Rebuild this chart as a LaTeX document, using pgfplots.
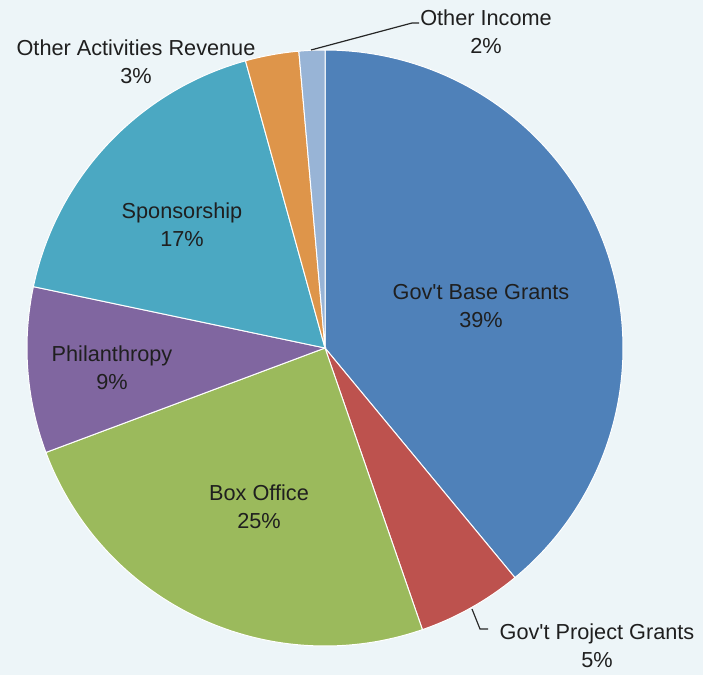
\documentclass[border=0pt]{standalone}
\usepackage{fontspec}
\setmainfont{Liberation Sans}
\usepackage{pgfplots}
\pgfplotsset{compat=1.18}
\definecolor{bg}{HTML}{EDF5F8}
\definecolor{cbase}{HTML}{4F81B9}
\definecolor{cproj}{HTML}{BD524E}
\definecolor{cbox}{HTML}{9BBA5C}
\definecolor{cphil}{HTML}{8066A0}
\definecolor{cspon}{HTML}{4BA8C2}
\definecolor{cact}{HTML}{DE954A}
\definecolor{cinc}{HTML}{98B4D6}
% shares in percent
\def\vBase{39.0}
\def\vProj{5.7}
\def\vBox{24.6}
\def\vPhil{9.0}
\def\vSpon{17.4}
\def\vAct{2.9}
\def\vInc{1.4}
\pgfmathsetmacro\aA{90}
\pgfmathsetmacro\aB{\aA-3.6*\vBase}
\pgfmathsetmacro\aC{\aB-3.6*\vProj}
\pgfmathsetmacro\aD{\aC-3.6*\vBox}
\pgfmathsetmacro\aE{\aD-3.6*\vPhil}
\pgfmathsetmacro\aF{\aE-3.6*\vSpon}
\pgfmathsetmacro\aG{\aF-3.6*\vAct}
\pgfmathsetmacro\aH{\aG-3.6*\vInc}
\newcommand\pieslice[3]{%
  \addplot[fill=#3, draw=white, line width=1pt, domain=#2:#1, samples=120]
    ({325+298*cos(x)},{348-298*sin(x)}) -- (325,348) -- cycle;}
\tikzset{lbl/.style={font=\fontsize{21.7bp}{28bp}\selectfont, text=black!88, align=center, inner sep=0pt}}
\begin{document}
\begin{tikzpicture}
\fill[bg] (0,0) rectangle (703bp,675bp);
\begin{axis}[
  scale only axis, width=703bp, height=675bp,
  xmin=0, xmax=703, ymin=0, ymax=675, y dir=reverse,
  hide axis, clip=false,
]
\pieslice{\aA}{\aB}{cbase}
\pieslice{\aB}{\aC}{cproj}
\pieslice{\aC}{\aD}{cbox}
\pieslice{\aD}{\aE}{cphil}
\pieslice{\aE}{\aF}{cspon}
\pieslice{\aF}{\aG}{cact}
\pieslice{\aG}{\aH}{cinc}
\draw[black!85, line width=1.2pt] (311,50) -- (412,23) -- (419,23);
\draw[black!85, line width=1.2pt] (472,609) -- (480,629) -- (488,629);
\node[lbl] at (481,306) {Gov\textquotesingle t Base Grants\\39\%};
\node[lbl] at (597,646) {Gov\textquotesingle t Project Grants\\5\%};
\node[lbl] at (259,507) {Box Office\\25\%};
\node[lbl] at (112,368) {Philanthropy\\9\%};
\node[lbl] at (182,225) {Sponsorship\\17\%};
\node[lbl] at (136,62) {Other Activities Revenue\\3\%};
\node[lbl] at (486,32) {Other Income\\2\%};
\end{axis}
\end{tikzpicture}
\end{document}
